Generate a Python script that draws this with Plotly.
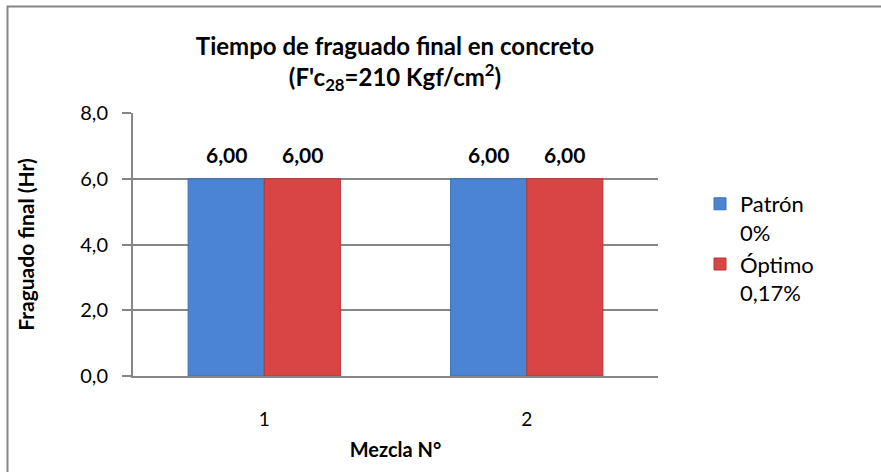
import plotly.graph_objects as go

# Setting-time data per mix
mezclas = ["1", "2"]
patron = [6.00, 6.00]
optimo = [6.00, 6.00]
serie_nombres = ["Patrón<br>0%", "Óptimo<br>0,17%"]
y_ticks = [0, 2, 4, 6, 8]

FONT = "Lato, Carlito, 'Open Sans', sans-serif"
W, H = 881, 472
L, R, T, B = 133, 223, 113, 96
pw, ph = W - L - R, H - T - B
BARGAP = 0.42


def px_x(p):
    return (p - L) / pw


def px_y(p):
    return (H - B - p) / ph


def fmt(v):
    return f"{v:.2f}".replace(".", ",")


fig = go.Figure()
series = [
    (patron, serie_nombres[0], "#4A84D2", "#3A6FB5"),
    (optimo, serie_nombres[1], "#D94545", "#B43535"),
]
for vals, name, col, edge in series:
    fig.add_bar(
        x=mezclas, y=vals, name=name,
        marker=dict(color=col, line=dict(color=edge, width=1)),
    )

# Value labels above each bar, offset to each bar's slot within its group
n = len(series)
slot = (1 - BARGAP) / n
for i, (vals, _, _, _) in enumerate(series):
    off = -(1 - BARGAP) / 2 + slot * (i + 0.5)
    for j, v in enumerate(vals):
        fig.add_annotation(
            x=j + off, y=v, xref="x", yref="y",
            text=f"<b>{fmt(v)}</b>", showarrow=False,
            yanchor="bottom", yshift=10,
            font=dict(family=FONT, size=21, color="black"),
        )

fig.update_layout(
    width=W, height=H,
    margin=dict(l=L, r=R, t=T, b=B, pad=0, autoexpand=False),
    paper_bgcolor="white", plot_bgcolor="white",
    barmode="group", bargap=BARGAP, bargroupgap=0,
    separators=", ",
    font=dict(family=FONT, size=18, color="black"),
    title=dict(
        text="<b>Tiempo de fraguado final en concreto<br>(F'c<sub>28</sub>=210 Kgf/cm<sup>2</sup>)</b>",
        x=px_x(395), xref="paper", xanchor="center",
        y=1 - 55 / H, yref="container", yanchor="top",
        font=dict(family=FONT, size=24, color="black"),
    ),
    legend=dict(
        x=px_x(700), y=px_y(183), xanchor="left", yanchor="top",
        font=dict(family=FONT, size=22, color="black"),
        itemwidth=30, tracegroupgap=6, valign="top",
        bgcolor="rgba(0,0,0,0)",
    ),
    showlegend=True,
)

fig.update_xaxes(
    automargin=False,
    showline=True, linecolor="#868686", linewidth=2,
    ticks="", tickfont=dict(family=FONT, size=19),
    ticklabelstandoff=25,
    title=dict(text="<b>Mezcla N°</b>", font=dict(family=FONT, size=20), standoff=14),
)
fig.update_yaxes(
    automargin=False,
    range=[0, 8], tickvals=y_ticks, tickformat=".1f",
    showline=True, linecolor="#868686", linewidth=2,
    showgrid=True, gridcolor="#868686", gridwidth=2,
    ticks="outside", ticklen=9, tickcolor="#868686", tickwidth=2,
    tickfont=dict(family=FONT, size=20),
    ticklabelstandoff=10,
    zeroline=False,
    title=dict(text="<b>Fraguado final (Hr)</b>", font=dict(family=FONT, size=21), standoff=40),
)

# Outer chart frame
fig.add_shape(
    type="rect", xref="paper", yref="paper",
    x0=px_x(7.5), x1=px_x(W + 10), y0=px_y(H + 10), y1=px_y(6.5),
    line=dict(color="#868686", width=2), fillcolor="rgba(0,0,0,0)", layer="below",
)

fig.write_html("out.html")
